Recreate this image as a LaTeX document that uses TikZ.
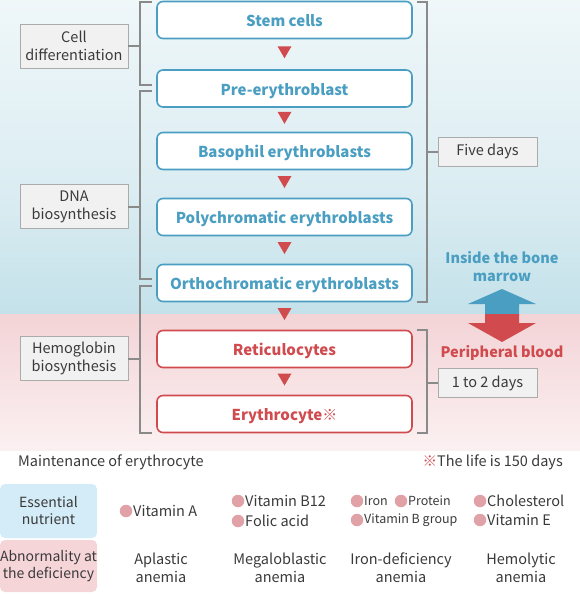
\documentclass[tikz,border=0pt]{standalone}
\usepackage{fontspec}
\setmainfont{Noto Sans CJK JP}
\usetikzlibrary{calc}
\definecolor{bluec}{HTML}{4A9EC2}
\definecolor{redc}{HTML}{D04A4E}
\definecolor{textc}{HTML}{3A3A3A}
\definecolor{brkc}{HTML}{8A8A8A}
\definecolor{bgblue}{HTML}{A6D2DF}
\definecolor{bgpink}{HTML}{EFC5C9}
\definecolor{dotc}{HTML}{E0A2A6}
\definecolor{nutc}{HTML}{D4ECF7}
\definecolor{abnc}{HTML}{F6D5D9}
\definecolor{labfill}{HTML}{F1F1F1}
\definecolor{labdraw}{HTML}{ABABAB}
\pgfdeclareverticalshading{blueband}{100bp}{color(0bp)=(bgblue); color(45bp)=(bgblue!40!white); color(100bp)=(white)}
\pgfdeclareverticalshading{pinkband}{100bp}{color(0bp)=(white); color(100bp)=(bgpink)}
\begin{document}
\begin{tikzpicture}[x=1pt,y=-1pt,
  cellb/.style={draw=bluec, line width=1.6pt, rounded corners=6pt, fill=white, minimum width=255pt, minimum height=37pt, text=bluec, font=\bfseries\fontsize{15}{18}\selectfont, inner sep=0pt, text height=13.5pt, text depth=0pt},
  cellr/.style={cellb, draw=redc, text=redc},
  lab/.style={draw=labdraw, fill=labfill, line width=0.9pt, align=center, text=textc, font=\fontsize{14.5}{18}\selectfont, minimum width=108pt, minimum height=44pt, inner sep=0pt},
  days/.style={lab, minimum width=99pt, minimum height=29pt},
  brk/.style={draw=brkc, line width=2pt},
  tri/.style={fill=redc},
  plain/.style={text=textc, font=\fontsize{14.5}{18}\selectfont, inner sep=0pt},
  anem/.style={plain, align=center},
  smalln/.style={text=textc, font=\fontsize{12.5}{15}\selectfont, inner sep=0pt},
  dot/.style={circle, fill=dotc, minimum size=12.5pt, inner sep=0pt},
  tabbox/.style={rounded corners=5pt, align=center, text=textc, font=\fontsize{14}{17}\selectfont, minimum width=97pt, inner sep=0pt}
]
\useasboundingbox (0,0) rectangle (580,595);
% backgrounds
\shade[shading=blueband] (0,0) rectangle (580,314);
\shade[shading=pinkband] (0,314) rectangle (580,450);

% cells
\node[cellb] (stem) at (284.5,20) {Stem cells};
\node[cellb] (pre) at (284.5,88.5) {Pre-erythroblast};
\node[cellb] (baso) at (284.5,151) {Basophil erythroblasts};
\node[cellb] (poly) at (284.5,217) {Polychromatic erythroblasts};
\node[cellb] (ortho) at (284.5,283) {Orthochromatic erythroblasts};
\node[cellr] (retic) at (284.5,349) {Reticulocytes};
\node[cellr] (ery) at (284.5,414) {Erythrocyte{\mdseries ※}};

% triangles
\foreach \a/\b in {stem/pre, pre/baso, baso/poly, poly/ortho, ortho/retic, retic/ery}{
  \fill[tri] ($(\a.south)!0.5!(\b.north)+(0,-2)$) ++(-7,-6) -- ++(14,0) -- ++(-7,12) -- cycle;
}

% left labels
\node[lab] (cd) at (74,46) {Cell\\differentiation};
\node[lab] (dna) at (74,206.5) {DNA\\biosynthesis};
\node[lab] (hb) at (74,358.5) {Hemoglobin\\biosynthesis};

% left brackets
\draw[brk] (152,2) -- (140,2) -- (140,85) -- (152,85);
\draw[brk] (cd.east) -- (140,46);
\draw[brk] (152,91) -- (140,91) -- (140,279) -- (152,279);
\draw[brk] (dna.east) -- (140,206.5);
\draw[brk] (152,286) -- (140,286) -- (140,433) -- (152,433);
\draw[brk] (hb.east) -- (140,358.5);

% right labels and brackets
\node[days] (five) at (487.5,151.5) {Five days};
\node[days] (onetwo) at (487.5,383) {1 to 2 days};
\draw[brk] (417,2) -- (427,2) -- (427,302) -- (417,302);
\draw[brk] (five.west) -- (427,151.5);
\draw[brk] (417,330) -- (427,330) -- (427,433) -- (417,433);
\draw[brk] (onetwo.west) -- (427,383);

% double arrow
\begin{scope}
\clip (440,280) rectangle (560,314);
\fill[bluec] (502,289) -- (536,304) -- (519,304) -- (519,323) -- (536,323) -- (502,342) -- (468,323) -- (485,323) -- (485,304) -- (468,304) -- cycle;
\end{scope}
\begin{scope}
\clip (440,314) rectangle (560,350);
\fill[redc] (502,289) -- (536,304) -- (519,304) -- (519,323) -- (536,323) -- (502,342) -- (468,323) -- (485,323) -- (485,304) -- (468,304) -- cycle;
\end{scope}
\node[text=bluec, font=\bfseries\fontsize{14.5}{18}\selectfont, align=center, inner sep=0pt] (bm) at (502,267) {Inside the bone\\marrow};
\node[text=redc, font=\bfseries\fontsize{14.5}{18}\selectfont, inner sep=0pt] (pb) at (502,353) {Peripheral blood};

% bottom
\node[plain, anchor=west] (maint) at (18,462) {Maintenance of erythrocyte};
\node[plain, anchor=east] (life) at (563,462) {{\color{redc}※}The life is 150 days};

\node[tabbox, fill=nutc, minimum height=54pt] (ess) at (48.5,511) {Essential\\nutrient};
\node[tabbox, fill=abnc, minimum height=52pt] (abn) at (48.5,566) {Abnormality at\\the deficiency};

\node[dot] (d1) at (126,511) {};
\node[plain, anchor=west] (t1) at (133,511) {Vitamin A};
\node[dot] (d2) at (238,501) {};
\node[plain, anchor=west] (t2) at (245,501) {Vitamin B12};
\node[dot] (d3) at (238,521) {};
\node[plain, anchor=west] (t3) at (245,521) {Folic acid};
\node[dot] (d4) at (357,501) {};
\node[smalln, anchor=west] (t4) at (364,501) {Iron};
\node[dot] (d5) at (401,501) {};
\node[smalln, anchor=west] (t5) at (408,501) {Protein};
\node[dot] (d6) at (357,520) {};
\node[smalln, anchor=west] (t6) at (364,520) {Vitamin B group};
\node[dot] (d7) at (480,501) {};
\node[plain, anchor=west] (t7) at (487,501) {Cholesterol};
\node[dot] (d8) at (480,520) {};
\node[plain, anchor=west] (t8) at (487,520) {Vitamin E};

\node[anem] (a1) at (161,568) {Aplastic\\anemia};
\node[anem] (a2) at (280,568) {Megaloblastic\\anemia};
\node[anem] (a3) at (401,568) {Iron-deficiency\\anemia};
\node[anem] (a4) at (521,568) {Hemolytic\\anemia};
\end{tikzpicture}
\end{document}
